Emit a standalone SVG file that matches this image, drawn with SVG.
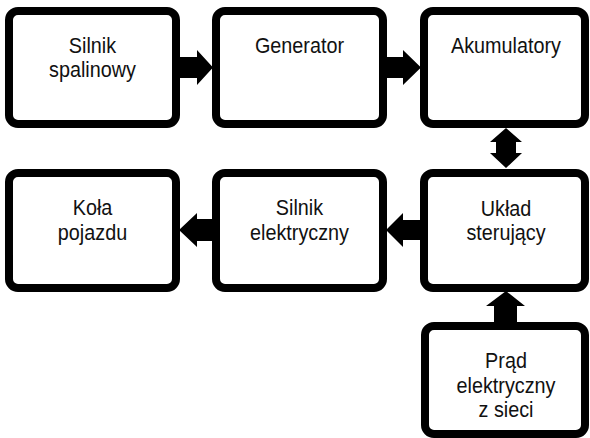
<svg xmlns="http://www.w3.org/2000/svg" width="590" height="438" viewBox="0 0 590 438">
<style>
.box{fill:#fff;stroke:#000;stroke-width:8}
.t{font-family:"Liberation Sans",Arial,sans-serif;font-size:22px;fill:#111;text-anchor:middle}
.arr{fill:#000}
</style>
<rect width="590" height="438" fill="#fff"/>
<g id="silnik-spalinowy">
<rect class="box" x="9" y="11" width="167" height="113" rx="9"/>
<g transform="translate(92.5,0) scale(0.9,1)"><text class="t" x="0" y="53">Silnik</text><text class="t" x="0" y="77">spalinowy</text></g>
</g>
<g id="generator">
<rect class="box" x="216" y="11" width="167" height="113" rx="9"/>
<g transform="translate(299.5,0) scale(0.9,1)"><text class="t" x="0" y="53">Generator</text></g>
</g>
<g id="akumulatory">
<rect class="box" x="424" y="11" width="161" height="113" rx="9"/>
<g transform="translate(506,0) scale(0.9,1)"><text class="t" x="0" y="53">Akumulatory</text></g>
</g>
<g id="kola-pojazdu">
<rect class="box" x="9" y="173" width="167" height="115" rx="9"/>
<g transform="translate(92.5,0) scale(0.9,1)"><text class="t" x="0" y="215">Koła</text><text class="t" x="0" y="240">pojazdu</text></g>
</g>
<g id="silnik-elektryczny">
<rect class="box" x="216" y="173" width="167" height="115" rx="9"/>
<g transform="translate(299.5,0) scale(0.9,1)"><text class="t" x="0" y="215">Silnik</text><text class="t" x="0" y="240">elektryczny</text></g>
</g>
<g id="uklad-sterujacy">
<rect class="box" x="424" y="173" width="161" height="115" rx="9"/>
<g transform="translate(506,0) scale(0.9,1)"><text class="t" x="0" y="216">Układ</text><text class="t" x="0" y="240">sterujący</text></g>
</g>
<g id="prad-z-sieci">
<rect class="box" x="425" y="326" width="160" height="108" rx="9"/>
<g transform="translate(506,0) scale(0.9,1)"><text class="t" x="0" y="368">Prąd</text><text class="t" x="0" y="393">elektryczny</text><text class="t" x="0" y="417">z sieci</text></g>
</g>
<g id="connectors">
<polygon class="arr" points="180,57 197,57 197,50 213,67.5 197,85 197,78 180,78"/>
<polygon class="arr" points="387,57 403,57 403,50 421,67.5 403,85 403,78 387,78"/>
<polygon class="arr" points="506,128 522,142 516,142 516,153 522,153 506,168 490,153 496,153 496,142 490,142"/>
<polygon class="arr" points="212,219 197,219 197,213 179,230 197,247 197,241 212,241"/>
<polygon class="arr" points="420,220 403,220 403,213 386,230 403,247 403,240 420,240"/>
<polygon class="arr" points="494,322 494,306 486,306 506,291 525,306 517,306 517,322"/>
</g>
</svg>
